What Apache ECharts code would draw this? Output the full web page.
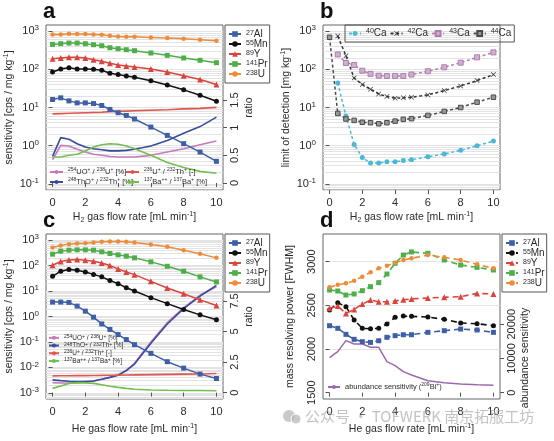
<!DOCTYPE html>
<html><head><meta charset="utf-8">
<script src="https://cdn.jsdelivr.net/npm/echarts@6/dist/echarts.min.js"></script>
<style>html,body{margin:0;padding:0;background:#fff}#c{width:554px;height:441px}</style>
</head><body><div id="c"></div>
<script>
// ---------- data ----------
const flow = [0,0.5,1,1.5,2,2.5,3,3.5,4,4.5,5,6,7,8,9,10];
const xTicks = [0,2,4,6,8,10];

// panel a: H2, sensitivity
const aAl = [16.2,17.9,14.9,13.2,13.2,12.7,11.3,8.9,7.3,6.2,5.0,3.07,1.86,1.13,0.68,0.39];
const aMn = [85,102,110,102,102,100,94,79,73,67,62,50,39,29,21,14.6];
const aY  = [190,198,206,206,198,179,162,144,130,122,115,102,85,68,54,40];
const aPr = [449,468,487,487,468,440,414,367,346,326,307,267,232,198,172,149];
const aU  = [819,819,851,835,835,819,802,756,726,711,711,684,657,631,594,560];
// panel a: ratios
const aUO  = [0.42,0.68,0.67,0.61,0.56,0.52,0.50,0.48,0.47,0.47,0.47,0.50,0.56,0.62,0.69,0.76];
const aThO = [0.48,0.82,0.79,0.71,0.65,0.62,0.60,0.58,0.58,0.59,0.61,0.67,0.77,0.90,1.02,1.19];
const aUTh = [1.25,1.255,1.26,1.265,1.27,1.275,1.28,1.29,1.295,1.30,1.305,1.315,1.325,1.34,1.35,1.367];
const aBa  = [0.47,0.47,0.50,0.52,0.58,0.65,0.69,0.71,0.70,0.67,0.62,0.50,0.37,0.28,0.21,0.175];

// panel b: H2, limit of detection
const bCa40 = [null,44,6.0,1.08,0.49,0.353,0.353,0.38,0.38,0.41,0.43,0.51,0.61,0.76,1.0,1.32];
const bCa42 = [null,741,227,59,40,30,22.7,19.4,17.5,17.9,18.6,21.4,27.7,36.7,50.6,72.6];
const bCa43 = [null,245,146,130,92,76,68,67,67,67,73,89,113,149,206,277];
const bCa44 = [690,7.0,5.0,4.6,4.1,4.0,3.75,4.0,4.4,4.9,5.1,6.2,7.9,10,13.8,18.6];

// panel c: He, sensitivity
const cAl = [3.68,3.68,3.57,2.56,1.62,0.94,0.51,0.31,0.195,0.124,0.0785,0.0357,0.0168,0.0094,0.00546,0.00368];
const cMn = [38,60,70,65,56,45,36,26,19.5,13.5,10,5.5,3.2,1.89,1.16,0.74];
const cY  = [103,144,167,173,162,148,127,100,74,56,44,24,13.1,7.8,4.5,2.7];
const cPr = [280,368,403,415,415,403,346,298,264,234,201,140,94,60,36,22.7];
const cU  = [514,615,695,739,761,809,860,886,886,860,809,674,545,403,289,201];
// panel c: ratios
const cUO  = [0.82,0.79,0.79,0.82,0.87,0.95,1.09,1.25,1.44,1.83,2.40,4.14,5.72,6.95,7.96,8.66];
const cThO = [1.04,0.98,0.93,0.90,0.90,0.95,1.09,1.25,1.42,1.80,2.34,4.03,5.61,6.87,7.90,8.77];
const cUTh = [1.37,1.38,1.38,1.39,1.39,1.40,1.41,1.42,1.43,1.44,1.45,1.47,1.49,1.51,1.53,1.56];
const cBa  = [0.35,0.55,0.75,0.82,0.80,0.76,0.65,0.52,0.43,0.35,0.28,0.22,0.19,0.18,0.17,0.16];

// panel d: He, mass resolving power + abundance sensitivity
const dAl = [2267,2237,2168,2111,2084,2076,2095,2134,2153,2164,2164,2191,2210,2229,2218,2191];
const dMn = [2447,2531,2485,2332,2237,2233,2237,2286,2363,2378,2374,2366,2340,2298,2290,2267];
const dY  = [2466,2492,2408,2454,2515,2561,2542,2542,2550,2565,2573,2584,2592,2599,2637,2630];
const dPr = [2676,2664,2618,2630,2668,2714,2760,2859,2981,3076,3111,3096,3019,2962,2935,2905];
const dU  = [2706,2737,2752,2783,2828,2878,2924,2954,2989,3019,3038,3076,3050,3019,2970,2924];
const dAb = [10240,12000,15220,14240,14240,13270,13270,9070,7900,6150,5170,3510,2930,2540,2340,2150];

// labels
const LBL = {
  Al:'{sup|27}Al', Mn:'{sup|55}Mn', Y:'{sup|89}Y', Pr:'{sup|141}Pr', U:'{sup|238}U',
  UO:'{sup|254}UO{sup|+} / {sup|238}U{sup|+} [%]',
  ThO:'{sup|248}ThO{sup|+} / {sup|232}Th{sup|+} [%]',
  UTh:'{sup|236}U{sup|+} / {sup|232}Th{sup|+} [-]',
  Ba:'{sup|137}Ba{sup|++} / {sup|137}Ba{sup|+} [%]',
  Ca40:'{sup|40}Ca', Ca42:'{sup|42}Ca', Ca43:'{sup|43}Ca', Ca44:'{sup|44}Ca',
  Ab:'abundance sensitivity ({sup|209}Bi{sup|+})'
};

// ---------- styling ----------
const FONT = '"Liberation Sans", Arial, "DejaVu Sans", sans-serif';
const TXT = '#2a2a2a';
const C = {Al:'#3E5FA6', Mn:'#111111', Y:'#D9443C', Pr:'#4EAF4A', U:'#EE8C3A',
  UO:'#C47BB9', ThO:'#3A4B9C', UTh:'#E0574F', Ba:'#72BF4F',
  Ca40:'#4CB8D6', Ca42:'#333333', Ca43:'#AE7FAE', Ca44:'#4A4A4A', Ab:'#9A6AAA'};
const SYM = {Al:'rect', Mn:'circle', Y:'triangle', Pr:'rect', U:'circle'};
const SSZ = {Al:5, Mn:5, Y:6, Pr:5, U:4.5};
const CROSS = 'path://M0,1L1,0L5,4L9,0L10,1L6,5L10,9L9,10L5,6L1,10L0,9L4,5Z';

function rich(fs, lh){
  const s = Math.round(fs*0.7);
  return { sup:{fontSize:s, lineHeight:s, verticalAlign:'top', fontFamily:FONT, color:TXT},
           sub:{fontSize:s, lineHeight:s, verticalAlign:'bottom', fontFamily:FONT, color:TXT} };
}
const pairs = ys => flow.map((x,i)=>[x, ys[i]]).filter(p => p[1] != null);
const decades = (lo,hi) => { const r=[]; for(let e=lo;e<=hi;e++) r.push(Math.pow(10,e)); return r; };
const minor = (lo,hi) => { const r=[]; for(let e=lo;e<=hi;e++) for(let m=1;m<=9;m++) r.push(+(m*Math.pow(10,e)).toPrecision(3)); return r; };

const grids = [
  {left:46, top:25, width:177, height:165},
  {left:323, top:25, width:177, height:165},
  {left:46, top:234, width:177, height:165},
  {left:323, top:234, width:177, height:165}
].map(g => Object.assign({show:true, borderColor:'#666', borderWidth:1, backgroundColor:'transparent'}, g));

const tick = {show:true, length:4, lineStyle:{color:'#555', width:1}};
const nameStyle = {fontSize:10.5, lineHeight:13, color:TXT, fontFamily:FONT, rich:rich(10.5,13)};
const GRIDLINE = '#e3e3e3';

function xAx(gi, name, gap){
  return {type:'value', gridIndex:gi, min:-0.4, max:10.4,
    axisLine:{show:false}, splitLine:{show:false},
    axisTick:Object.assign({customValues:xTicks}, tick),
    axisLabel:{customValues:xTicks, margin:7, fontSize:11, color:TXT, fontFamily:FONT},
    name, nameLocation:'middle', nameGap:gap, nameTextStyle:nameStyle};
}
function yLog(gi, dlo, dhi, lo, hi, name){
  const dv = decades(dlo, dhi);
  return {type:'log', logBase:10, gridIndex:gi, position:'left',
    min:Math.pow(10,lo), max:Math.pow(10,hi),
    axisLine:{show:false}, splitLine:{show:false},
    axisTick:Object.assign({customValues:dv}, tick),
    axisLabel:{customValues:dv, margin:7, fontSize:11, lineHeight:14, color:TXT, fontFamily:FONT,
      formatter: v => '10{sup|' + Math.round(Math.log10(v)) + '}', rich:rich(11,14)},
    name, nameLocation:'middle', nameRotate:90, nameGap:27, nameTextStyle:nameStyle};
}
function yMinor(gi, dlo, dhi, lo, hi){
  return {type:'log', logBase:10, gridIndex:gi, position:'left',
    min:Math.pow(10,lo), max:Math.pow(10,hi),
    axisLine:{show:false}, axisLabel:{show:false},
    axisTick:{show:false, customValues:minor(dlo,dhi)},
    splitLine:{show:true, lineStyle:{color:GRIDLINE, width:1}}};
}
function yVal(gi, pos, min, max, ticks, name, gap, margin){
  return {type:'value', gridIndex:gi, position:pos, min, max,
    axisLine:{show:false}, splitLine:{show:false},
    axisTick:Object.assign({customValues:ticks}, tick),
    axisLabel:{customValues:ticks, rotate:90, margin:margin, fontSize:11, color:TXT, fontFamily:FONT, formatter: v => String(v)},
    name, nameLocation:'middle', nameRotate:90, nameGap:gap, nameTextStyle:nameStyle};
}

const yAxes = [
  yLog(0,-1,3,-1.16,3.16,'sensitivity [cps / mg kg{sup|-1}]'),        //0
  yMinor(0,-2,3,-1.16,3.16),                                          //1
  yVal(0,'right',-0.127,2.857,[0,0.5,1,1.5],'ratio',20,6),            //2
  yLog(1,-1,3,-1.16,3.16,'limit of detection [mg kg{sup|-1}]'),       //3
  yMinor(1,-2,3,-1.16,3.16),                                          //4
  yLog(2,-3,3,-3.24,3.24,'sensitivity [cps / mg kg{sup|-1}]'),        //5
  yMinor(2,-4,3,-3.24,3.24),                                          //6
  yVal(2,'right',-0.52,12.97,[0,2.5,5,7.5],'ratio',20,6),             //7
  yVal(3,'left',1428,3317,[1500,2000,2500,3000],'mass resolving power [FWHM]',26,6), //8
  {type:'value', gridIndex:3, position:'left', min:1428, max:3317, axisLine:{show:false}, axisLabel:{show:false},
    axisTick:{show:false, customValues:[2000,2500,3000]}, splitLine:{show:true, lineStyle:{color:GRIDLINE}}}, //9
  yVal(3,'right',-1842,46400,[0,10000,20000],'',18,6) //10 (name drawn below as rotated text)
];

const xAxes = [
  xAx(0,'H{sub|2} gas flow rate [mL min{sup|-1}]',21),
  xAx(1,'H{sub|2} gas flow rate [mL min{sup|-1}]',21),
  xAx(2,'He gas flow rate [mL min{sup|-1}]',24),
  xAx(3,'He gas flow rate [mL min{sup|-1}]',24)
];

const series = [];
function add(id, key, data, xi, yi, opt){
  const color = C[key];
  series.push(Object.assign({type:'line', name:id, xAxisIndex:xi, yAxisIndex:yi, data:pairs(data),
    symbol:'none', symbolSize:5, lineStyle:{color, width:1.5}, itemStyle:{color}, z:3,
    animation:false, silent:true}, opt||{}));
}
// panel a
['UO','ThO','UTh','Ba'].forEach(k => add('a'+k, k, {UO:aUO,ThO:aThO,UTh:aUTh,Ba:aBa}[k], 0, 2, {lineStyle:{color:C[k], width:1.6}}));
['Al','Mn','Y','Pr','U'].forEach(k => add('a'+k, k, {Al:aAl,Mn:aMn,Y:aY,Pr:aPr,U:aU}[k], 0, 0, {symbol:SYM[k], symbolSize:SSZ[k], z:4}));
// panel b
const bDash = [3,2.5];
add('bCa40','Ca40',bCa40,1,3,{symbol:'circle',symbolSize:5,lineStyle:{color:C.Ca40,width:1.5,type:bDash}});
add('bCa42','Ca42',bCa42,1,3,{symbol:CROSS,symbolSize:5,lineStyle:{color:C.Ca42,width:1.5,type:bDash}});
add('bCa43','Ca43',bCa43,1,3,{symbol:'rect',symbolSize:5,itemStyle:{color:'#cfb0cf',borderColor:C.Ca43,borderWidth:1},lineStyle:{color:C.Ca43,width:1.5,type:bDash}});
add('bCa44','Ca44',bCa44,1,3,{symbol:'rect',symbolSize:4.5,itemStyle:{color:'#999999',borderColor:C.Ca44,borderWidth:1},lineStyle:{color:C.Ca44,width:1.5,type:bDash}});
// panel c
['UO','ThO','UTh','Ba'].forEach(k => add('c'+k, k, {UO:cUO,ThO:cThO,UTh:cUTh,Ba:cBa}[k], 2, 7, {lineStyle:{color:C[k], width:1.6}}));
['Al','Mn','Y','Pr','U'].forEach(k => add('c'+k, k, {Al:cAl,Mn:cMn,Y:cY,Pr:cPr,U:cU}[k], 2, 5, {symbol:SYM[k], symbolSize:SSZ[k], z:4}));
// panel d
add('dAb','Ab',dAb,3,10,{lineStyle:{color:C.Ab,width:1.5}});
['Al','Mn','Y','Pr','U'].forEach(k => add('d'+k, k, {Al:dAl,Mn:dMn,Y:dY,Pr:dPr,U:dU}[k], 3, 8, {symbol:SYM[k], symbolSize:SSZ[k], z:4, lineStyle:{color:C[k], width:1.6, type:[6,4]}}));

const fmt = n => LBL[n.slice(1)];
function legMain(left, top, p){
  return {left, top, orient:'vertical', data:['Al','Mn','Y','Pr','U'].map(k=>p+k), formatter:fmt,
    selectedMode:false, borderColor:'#555', borderWidth:1, padding:[4,2,4,3], itemGap:0,
    itemWidth:12, itemHeight:7, textStyle:{fontSize:10, lineHeight:9.5, color:TXT, fontFamily:FONT, rich:rich(10,9.5)}};
}
function legSmall(left, top, ids, fs, lh, iw){
  return {left, top, orient:'vertical', data:ids, formatter:fmt, selectedMode:false, padding:0, itemGap:0,
    itemWidth:iw, itemHeight:5, textStyle:{fontSize:fs, lineHeight:lh, color:TXT, fontFamily:FONT, rich:rich(fs,lh)}};
}
const legends = [
  legMain(225,25,'a'), legMain(225,234,'c'), legMain(502,234,'d'),
  legSmall(49,167,['aUO','aThO'],7.5,10,13),
  legSmall(125,167,['aUTh','aBa'],7.5,10,13),
  legSmall(48,334,['cUO','cThO','cUTh','cBa'],6.5,7.7,10),
  legSmall(327,382,['dAb'],7.5,10,12),
  {left:345, top:25, orient:'horizontal', data:['bCa40','bCa42','bCa43','bCa44'], formatter:fmt, selectedMode:false,
    borderColor:'#555', borderWidth:1, padding:[3,3,3,3], itemGap:3, itemWidth:12, itemHeight:6,
    textStyle:{fontSize:10, lineHeight:11, color:TXT, fontFamily:FONT, rich:rich(10,11)}}
];

const titleStyle = {fontSize:22, fontWeight:'bold', color:'#111', fontFamily:FONT};
const option = {
  animation:false, backgroundColor:'#fff', textStyle:{fontFamily:FONT},
  title:[
    {text:'a', left:43, top:1, padding:0, textStyle:titleStyle},
    {text:'b', left:320, top:1, padding:0, textStyle:titleStyle},
    {text:'c', left:43, top:210, padding:0, textStyle:titleStyle},
    {text:'d', left:320, top:210, padding:0, textStyle:titleStyle}
  ],
  grid:grids, xAxis:xAxes, yAxis:yAxes, legend:legends, series,
  graphic:[
    {type:'text', x:525, y:358, rotation:Math.PI/2, z:50,
      style:{text:'abundance sensitivity', x:0, y:0, align:'center', verticalAlign:'middle', textAlign:'center', textVerticalAlign:'middle',
        font:'10.5px "Liberation Sans", Arial, sans-serif', fill:TXT}},
    {type:'circle', shape:{cx:289, cy:416, r:6}, style:{fill:'rgba(180,180,180,0.7)'}, z:100},
    {type:'circle', shape:{cx:296, cy:419, r:5}, style:{fill:'rgba(180,180,180,0.7)', stroke:'#fff', lineWidth:1}, z:100},
    {type:'text', left:305, top:409, z:100, style:{text:'公众号 · TOFWERK 南京拓服工坊', font:'15px "Noto Sans CJK SC", sans-serif', fill:'rgba(170,170,170,0.7)'}}
  ]
};
const chart = echarts.init(document.getElementById('c'), null, {renderer:'canvas'});
chart.setOption(option);
</script>
</body></html>
